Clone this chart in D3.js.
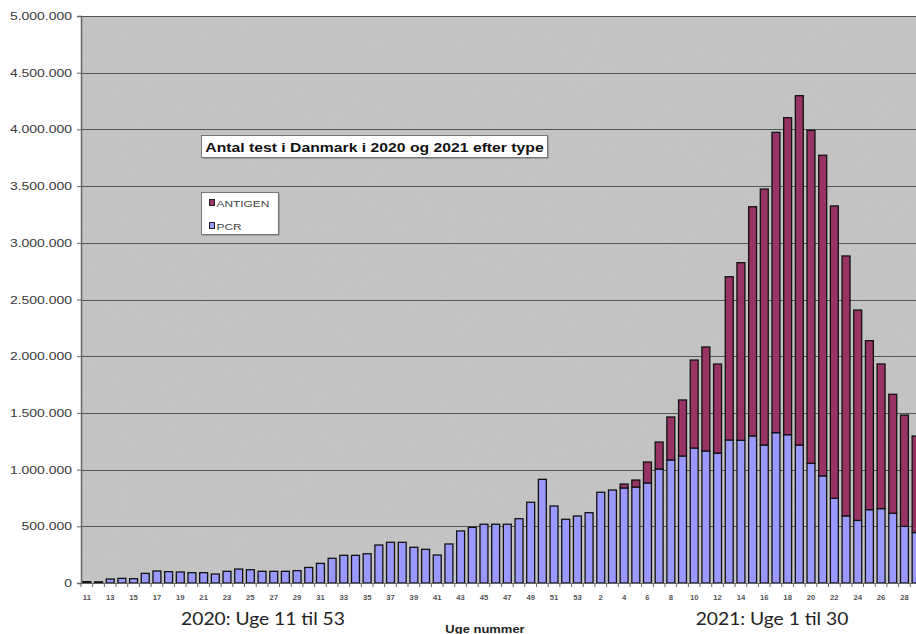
<!DOCTYPE html>
<html>
<head>
<meta charset="utf-8">
<script src="https://cdn.jsdelivr.net/npm/d3@7"></script>
<style>
  html, body { margin: 0; padding: 0; background: #fff; }
  svg { display: block; }
</style>
</head>
<body>
<svg id="chart" width="916" height="634"></svg>
<script>
// Weekly number of COVID-19 tests in Denmark, split by test type
const weeks2020 = [11,12,13,14,15,16,17,18,19,20,21,22,23,24,25,26,27,28,29,30,31,32,33,34,35,36,37,38,39,40,41,42,43,44,45,46,47,48,49,50,51,52,53];
const weeks2021 = [1,2,3,4,5,6,7,8,9,10,11,12,13,14,15,16,17,18,19,20,21,22,23,24,25,26,27,28,29];

const pcr2020 = [12000,10000,35000,41000,38000,85000,106000,100000,97000,91000,91000,79000,103000,123000,117000,103000,103000,103000,109000,137000,173000,218000,244000,244000,258000,335000,359000,359000,315000,297000,247000,344000,459000,491000,518000,518000,518000,567000,712000,914000,679000,562000,591000];
const antigen2020 = [0,0,0,0,0,0,0,0,0,0,0,0,0,0,0,0,0,0,0,0,0,0,0,0,0,0,0,0,0,0,0,0,0,0,0,0,0,0,0,0,0,0,0];

const pcr2021 = [620000,800000,820000,838000,846000,882000,1005000,1085000,1120000,1190000,1164000,1146000,1261000,1258000,1297000,1217000,1326000,1308000,1217000,1055000,945000,747000,592000,552000,647000,656000,615000,500000,445000];
const antigen2021 = [0,0,0,35000,62000,185000,238000,379000,494000,776000,917000,785000,1440000,1567000,2021000,2257000,2648000,2795000,3080000,2937000,2827000,2578000,2292000,1855000,1490000,1275000,1049000,981000,851000];

const yTicks = [0,500000,1000000,1500000,2000000,2500000,3000000,3500000,4000000,4500000,5000000];
const seriesNames = ["ANTIGEN", "PCR"];
const titleText = "Antal test i Danmark i 2020 og 2021 efter type";
const xTitle = "Uge nummer";
const period2020 = "2020: Uge 11 til 53";
const period2021 = "2021: Uge 1 til 30";

// Table for the stacked bars
const rows = [];
weeks2020.forEach((w, i) => rows.push({ key: "2020-" + w, week: w, PCR: pcr2020[i], ANTIGEN: antigen2020[i] }));
weeks2021.forEach((w, i) => rows.push({ key: "2021-" + w, week: w, PCR: pcr2021[i], ANTIGEN: antigen2021[i] }));

const colors = { PCR: "#9999ff", ANTIGEN: "#993366" };
const ARIAL = "Liberation Sans, Arial, sans-serif";
const WIDE = 1.27; // horizontal stretch of the chart lettering

const svg = d3.select("#chart");
const W = 916, H = 634;
const plot = { left: 81, top: 16, bottom: 583 };
const step = 11.68;
const plotRight = plot.left + rows.length * step;

const x = d3.scaleBand()
  .domain(rows.map(d => d.key))
  .range([plot.left, plotRight])
  .paddingInner(0.32)
  .paddingOuter(0.16);

const y = d3.scaleLinear().domain([0, 5000000]).range([plot.bottom, plot.top]);

const fmt = v => d3.format(",")(v).replace(/,/g, ".");

// text placed at (tx, ty) and stretched horizontally by sx
function label(parent, tx, ty, str, opts) {
  const o = Object.assign({ anchor: "start", sx: WIDE, size: 10, weight: "normal", fill: "#222", family: ARIAL }, opts);
  return parent.append("text")
    .attr("transform", `translate(${tx},${ty}) scale(${o.sx},1)`)
    .attr("text-anchor", o.anchor)
    .attr("font-family", o.family).attr("font-size", o.size)
    .attr("font-weight", o.weight).attr("fill", o.fill)
    .text(str);
}

// grainy plot background
const defs = svg.append("defs");
const grain = defs.append("filter").attr("id", "grain").attr("x", 0).attr("y", 0).attr("width", "100%").attr("height", "100%");
grain.append("feTurbulence").attr("type", "fractalNoise").attr("baseFrequency", 0.9).attr("numOctaves", 1).attr("seed", 3).attr("result", "n");
grain.append("feColorMatrix").attr("in", "n").attr("type", "matrix")
  .attr("values", "0 0 0 0 0.55  0 0 0 0 0.55  0 0 0 0 0.55  0 0 0 0.55 -0.1");
defs.append("clipPath").attr("id", "clip")
  .append("rect").attr("x", 0).attr("y", 0).attr("width", W).attr("height", H);

const g = svg.append("g").attr("clip-path", "url(#clip)");

g.append("rect")
  .attr("x", plot.left).attr("y", plot.top)
  .attr("width", plotRight - plot.left).attr("height", plot.bottom - plot.top)
  .attr("fill", "#c3c3c3");
g.append("rect")
  .attr("x", plot.left).attr("y", plot.top)
  .attr("width", plotRight - plot.left).attr("height", plot.bottom - plot.top)
  .attr("filter", "url(#grain)").attr("opacity", 0.35);

// horizontal grid lines
g.append("g").selectAll("line").data(yTicks.filter(t => t > 0)).join("line")
  .attr("x1", plot.left).attr("x2", plotRight)
  .attr("y1", d => Math.round(y(d)) + 0.5).attr("y2", d => Math.round(y(d)) + 0.5)
  .attr("stroke", "#555").attr("stroke-width", 1.2);

// y axis
const yAxis = g.append("g")
  .attr("transform", `translate(${plot.left},0)`)
  .call(d3.axisLeft(y).tickValues(yTicks).tickFormat(fmt).tickSize(4).tickPadding(5));
yAxis.select(".domain").attr("stroke", "#666").attr("stroke-width", 1.5);
yAxis.selectAll(".tick line").attr("stroke", "#666");
yAxis.selectAll(".tick text")
  .attr("x", null)
  .attr("transform", `translate(-9,0) scale(${WIDE},1)`)
  .attr("font-family", ARIAL)
  .attr("font-size", 11).attr("fill", "#3a3a3a");

// stacked bars
const stack = d3.stack().keys(["PCR", "ANTIGEN"]);
const layers = stack(rows);
g.append("g").selectAll("g").data(layers).join("g")
  .attr("fill", d => colors[d.key])
  .selectAll("rect").data(d => d.filter(p => p[1] - p[0] > 0)).join("rect")
  .attr("x", p => x(p.data.key))
  .attr("width", x.bandwidth())
  .attr("y", p => y(p[1]))
  .attr("height", p => y(p[0]) - y(p[1]))
  .attr("stroke", "#111").attr("stroke-width", 1.3);

// x axis: baseline, tick marks at category boundaries, every other label
g.append("line")
  .attr("x1", plot.left).attr("x2", plotRight)
  .attr("y1", plot.bottom + 0.5).attr("y2", plot.bottom + 0.5)
  .attr("stroke", "#666").attr("stroke-width", 1.2);
const bounds = rows.map(d => x(d.key) - x.step() * x.paddingInner() / 2);
g.append("g").selectAll("line").data(bounds).join("line")
  .attr("x1", d => d).attr("x2", d => d)
  .attr("y1", plot.bottom).attr("y2", plot.bottom + 4)
  .attr("stroke", "#666");
const xLabels = g.append("g");
rows.filter((d, i) => i % 2 === 0).forEach(d => {
  label(xLabels, x(d.key) + x.bandwidth() / 2, 600, d.week,
    { anchor: "middle", size: 7, weight: "bold", fill: "#555", sx: 1.1 });
});

// period captions and axis title
label(svg, 263, 625, period2020, { anchor: "middle", size: 17.5, sx: 1.1, family: "Lato, 'Open Sans', sans-serif", fill: "#222" });
label(svg, 772, 625, period2021, { anchor: "middle", size: 17.5, sx: 1.1, family: "Lato, 'Open Sans', sans-serif", fill: "#222" });
label(svg, 485, 633, xTitle, { anchor: "middle", size: 10, weight: "bold", sx: 1.3 });

// title box
const tb = svg.append("g");
tb.append("rect").attr("x", 202.5).attr("y", 136.5).attr("width", 346).attr("height", 22).attr("fill", "#7a7a7a");
tb.append("rect").attr("x", 201.5).attr("y", 135.5).attr("width", 346).attr("height", 22)
  .attr("fill", "#fff").attr("stroke", "#777").attr("stroke-width", 1);
label(tb, 374.5, 151.5, titleText, { anchor: "middle", size: 12.5, weight: "bold", fill: "#111", sx: 1.26 });

// legend
const lg = svg.append("g");
lg.append("rect").attr("x", 202.5).attr("y", 193.5).attr("width", 77).attr("height", 42).attr("fill", "#7a7a7a");
lg.append("rect").attr("x", 201.5).attr("y", 192.5).attr("width", 77).attr("height", 42)
  .attr("fill", "#fff").attr("stroke", "#777");
const items = lg.selectAll("g").data(seriesNames).join("g")
  .attr("transform", (d, i) => `translate(209,${203 + i * 23})`);
items.append("rect").attr("x", 0.5).attr("y", -3.5).attr("width", 5).attr("height", 6)
  .attr("fill", d => colors[d]).attr("stroke", "#222").attr("stroke-width", 1);
items.each(function (d) {
  label(d3.select(this), 7.5, 3.5, d, { size: 9.5, fill: "#444", sx: 1.25 });
});
</script>
</body>
</html>
